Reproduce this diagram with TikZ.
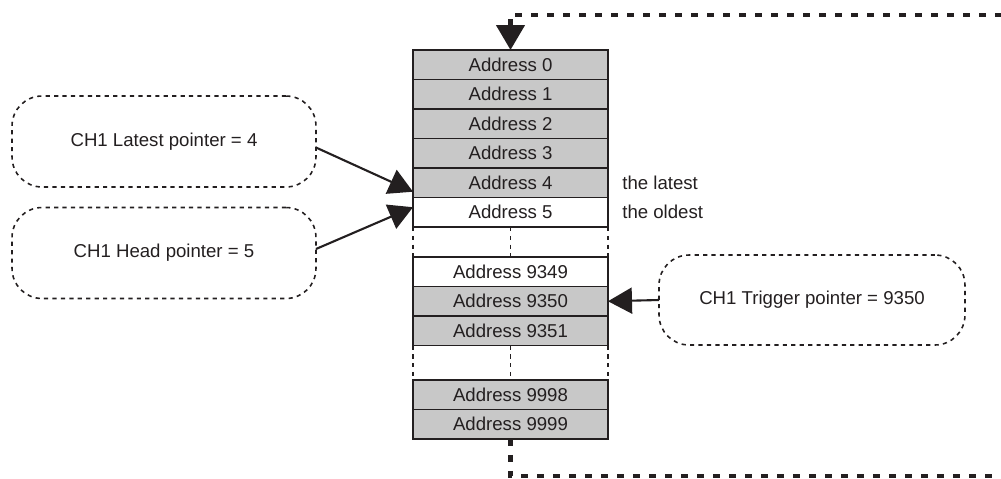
\documentclass[tikz,border=0pt]{standalone}
\usepackage{fontspec}
\setmainfont{Liberation Sans}
\usetikzlibrary{arrows.meta}

\definecolor{cellgray}{RGB}{200,200,200}
\definecolor{ink}{RGB}{35,31,32}

\tikzset{
  cell/.style={draw=ink, line width=0.7pt, minimum width=3.9cm, minimum height=0.59cm,
    inner sep=0pt, outer sep=0pt, anchor=north, text=ink, font=\fontsize{10.6}{12}\selectfont},
  fullcell/.style={cell, fill=cellgray},
  emptycell/.style={cell, fill=white},
  ptrbox/.style={draw=ink, line width=0.9pt, dash pattern=on 2.4pt off 2.4pt,
    rounded corners=0.6cm, minimum width=6.08cm, minimum height=1.82cm, outer sep=0pt,
    text=ink, font=\fontsize{10.6}{12}\selectfont},
  ptrarrow/.style={draw=ink, line width=1.2pt, -{Triangle[length=0.48cm,width=0.52cm]}},
  gapline/.style={draw=ink, line width=0.6pt, dash pattern=on 2.5pt off 2.5pt},
  loopline/.style={draw=ink, line width=2.6pt, dash pattern=on 3.8pt off 5.3pt},
  note/.style={anchor=west, text=ink, inner sep=0pt, font=\fontsize{10.6}{12}\selectfont}
}

\begin{document}
\begin{tikzpicture}[x=0.02cm,y=-0.02cm]
\useasboundingbox (0,0) rectangle (1001,478);
% memory cells
\node[fullcell] (a0) at (510.5,50) {Address 0};
\node[fullcell] (a1) at (a0.south) {Address 1};
\node[fullcell] (a2) at (a1.south) {Address 2};
\node[fullcell] (a3) at (a2.south) {Address 3};
\node[fullcell] (a4) at (a3.south) {Address 4};
\node[emptycell] (a5) at (a4.south) {Address 5};
\node[emptycell] (a9349) at (510.5,257) {Address 9349};
\node[fullcell] (a9350) at (a9349.south) {Address 9350};
\node[fullcell] (a9351) at (a9350.south) {Address 9351};
\node[fullcell] (a9998) at (510.5,380) {Address 9998};
\node[fullcell] (a9999) at (a9998.south) {Address 9999};
% skipped addresses
\draw[gapline] (a5.south west) -- (a9349.north west);
\draw[gapline] (a5.south) -- (a9349.north);
\draw[gapline] (a5.south east) -- (a9349.north east);
\draw[gapline] (a9351.south west) -- (a9998.north west);
\draw[gapline] (a9351.south) -- (a9998.north);
\draw[gapline] (a9351.south east) -- (a9998.north east);
% notes
\node[note] (latest) at ([xshift=0.28cm]a4.east) {the latest};
\node[note] (oldest) at ([xshift=0.28cm]a5.east) {the oldest};
% pointers
\node[ptrbox] (latestptr) at (164,141.5) {CH1 Latest pointer = 4};
\node[ptrbox] (headptr) at (164,253) {CH1 Head pointer = 5};
\node[ptrbox, minimum width=6.12cm, minimum height=1.8cm] (trigptr) at (812,300) {CH1 Trigger pointer = 9350};
\draw[ptrarrow] ([yshift=-0.12cm]latestptr.east) -- ([yshift=-0.18cm]a4.west);
\draw[ptrarrow] ([yshift=0.08cm]headptr.east) -- ([yshift=0.1cm]a5.west);
\draw[ptrarrow] (trigptr.west) -- (a9350.east);
% ring buffer wrap
\coordinate (loopin) at (1001,15);
\coordinate (loopout) at (1001,476);
\draw[loopline, {Triangle[length=0.5cm,width=0.56cm]}-] (a0.north) -- (a0.north |- loopin) -- (loopin);
\draw[loopline] (a9999.south) -- (a9999.south |- loopout) -- (loopout);
\end{tikzpicture}
\end{document}
